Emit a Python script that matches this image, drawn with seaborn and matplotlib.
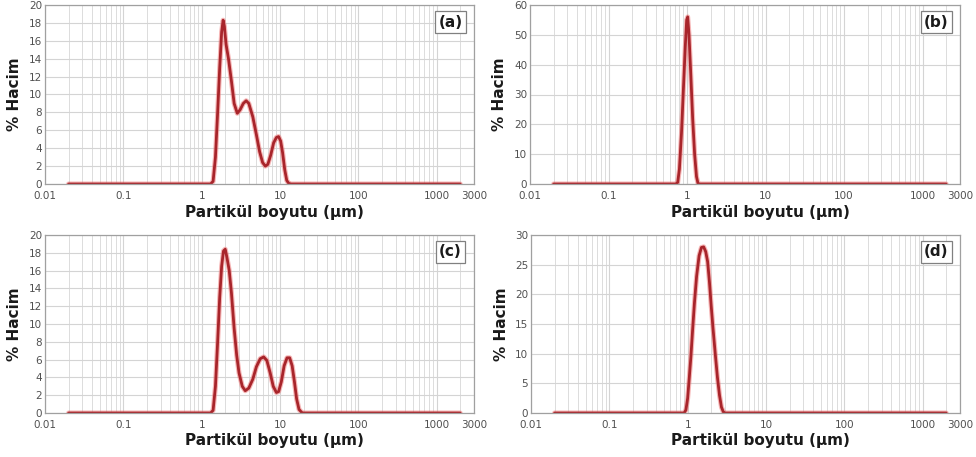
import numpy as np
import pandas as pd
import seaborn as sns
import matplotlib
matplotlib.use("Agg")
import matplotlib.pyplot as plt
from matplotlib.ticker import LogLocator, NullFormatter, FixedLocator

sns.set_theme(style="white")
plt.rcParams['font.family'] = ['DejaVu Sans']

# ---- data ----
x_a = [0.02, 1.3, 1.4, 1.5, 1.6, 1.7, 1.8, 1.88, 1.95, 2.05, 2.2, 2.4, 2.6, 2.85, 3.1, 3.4,
       3.7, 4.0, 4.5, 5.0, 5.5, 6.0, 6.5, 7.0, 7.6, 8.3, 9.0, 9.6, 10.2, 10.8, 11.5, 12.2, 13.0, 14.0, 2000]
y_a = [0, 0, 0.3, 3, 8, 13, 17, 18.3, 17.6, 15.6, 14.0, 11.5, 9.0, 7.9, 8.3, 9.0,
       9.3, 9.0, 7.5, 5.5, 3.6, 2.4, 2.0, 2.2, 3.2, 4.6, 5.2, 5.3, 4.8, 3.5, 1.6, 0.4, 0.05, 0, 0]

x_b = [0.02, 0.72, 0.76, 0.8, 0.85, 0.9, 0.95, 0.99, 1.02, 1.06, 1.12, 1.18, 1.25, 1.32, 1.38, 1.45, 2000]
y_b = [0, 0, 0.5, 5, 17, 32, 46, 55, 56, 50, 36, 22, 10, 2.5, 0.2, 0, 0]

x_c = [0.02, 1.3, 1.4, 1.5, 1.6, 1.7, 1.8, 1.9, 2.0, 2.1, 2.25, 2.4, 2.6, 2.8, 3.0, 3.3, 3.6,
       4.0, 4.5, 5.0, 5.6, 6.2, 6.8, 7.5, 8.2, 9.0, 9.6, 10.4, 11.3, 12.3, 13.3, 14.3, 15.3,
       16.3, 17.5, 19.0, 20.0, 2000]
y_c = [0, 0, 0.3, 3, 8, 13, 16.5, 18.2, 18.4, 17.5, 16.0, 13.5, 9.5, 6.5, 4.5, 3.0, 2.5,
       2.8, 3.8, 5.2, 6.1, 6.3, 5.9, 4.5, 3.0, 2.3, 2.4, 3.5, 5.3, 6.2, 6.2, 5.3, 3.5,
       1.6, 0.4, 0.05, 0, 0]

x_d = [0.02, 0.9, 0.95, 1.0, 1.05, 1.1, 1.15, 1.22, 1.3, 1.4, 1.5, 1.6, 1.7, 1.8, 1.9, 2.0,
       2.1, 2.25, 2.4, 2.55, 2.7, 2.85, 3.0, 2000]
y_d = [0, 0, 0.5, 2.5, 6, 9.5, 13.5, 18.5, 23, 26.5, 27.9, 28.0, 27.2, 25.5, 22, 18,
       14.5, 10, 6, 3, 1, 0.2, 0, 0]

panel_labels = ["(a)", "(b)", "(c)", "(d)"]
y_max = [20, 60, 20, 30]
y_step = [2, 10, 2, 5]
x_ticks = [0.01, 0.1, 1, 10, 100, 1000, 3000]
x_ticklabels = ["0.01", "0.1", "1", "10", "100", "1000", "3000"]
x_label = "Partikül boyutu (µm)"
y_label = "% Hacim"

series = [(x_a, y_a), (x_b, y_b), (x_c, y_c), (x_d, y_d)]

W, H = 976, 457
fig = plt.figure(figsize=(W / 100, H / 100), dpi=100)
fig.patch.set_facecolor("white")

# axes boxes in pixels: left, top, right, bottom
boxes = [(45, 5, 474, 184), (530, 5, 960, 184), (45, 235, 474, 413), (531, 235, 960, 413)]

for i, ((l, t, r, b), (xs, ys)) in enumerate(zip(boxes, series)):
    ax = fig.add_axes([l / W, 1 - b / H, (r - l) / W, (b - t) / H])
    df = pd.DataFrame({"x": xs, "y": ys})
    sns.lineplot(data=df, x="x", y="y", ax=ax, color="#ef7a7a", linewidth=3.6, alpha=0.55, sort=False)
    sns.lineplot(data=df, x="x", y="y", ax=ax, color="#a8252b", linewidth=2.0, sort=False)
    ax.set_xscale("log")
    ax.set_xlim(0.01, 3000)
    ax.set_ylim(0, y_max[i])
    ax.xaxis.set_major_locator(FixedLocator(x_ticks))
    ax.set_xticklabels(x_ticklabels)
    ax.xaxis.set_minor_locator(LogLocator(base=10, subs=np.arange(2, 10), numticks=20))
    ax.xaxis.set_minor_formatter(NullFormatter())
    ax.set_yticks(np.arange(0, y_max[i] + 0.1, y_step[i]))
    ax.grid(which="major", color="#d4d4d4", linewidth=0.8)
    ax.grid(which="minor", axis="x", color="#dcdcdc", linewidth=0.7)
    ax.set_axisbelow(True)
    ax.tick_params(axis="both", which="both", length=0, labelsize=7.5, labelcolor="#505050")
    ax.tick_params(axis="x", pad=5)
    ax.tick_params(axis="y", pad=2)
    for s in ax.spines.values():
        s.set_color("#a0a0a0")
        s.set_linewidth(0.9)
    ax.set_xlabel(x_label, fontsize=11, fontweight="bold", color="#1a1a1a")
    ax.set_ylabel(y_label, fontsize=11, fontweight="bold", color="#1a1a1a")
    ax.xaxis.label.set_va("center")
    ax.yaxis.label.set_va("center")
    ax.xaxis.set_label_coords(0.535, -28 / (b - t))
    ax.yaxis.set_label_coords(-30 / (r - l), 0.5)
    ax.text(0.945, 0.905, panel_labels[i], transform=ax.transAxes, ha="center", va="center",
            fontsize=11, fontweight="bold", color="#1a1a1a",
            bbox=dict(boxstyle="square,pad=0.22", facecolor="white", edgecolor="#808080", linewidth=0.9))

fig.savefig("out.png", dpi=100, facecolor="white")
